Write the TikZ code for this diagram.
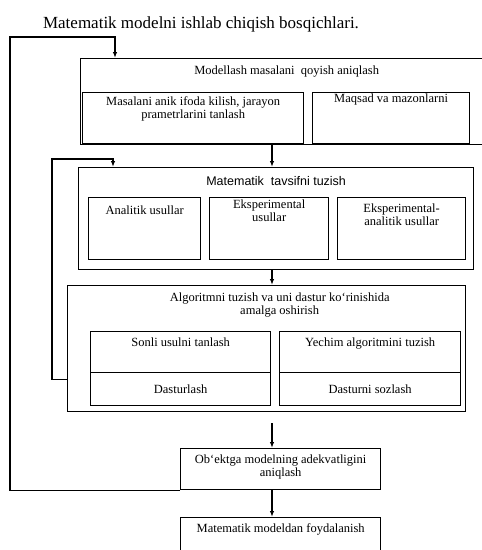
\documentclass[tikz,border=0pt]{standalone}
\usepackage{fontspec}
\setmainfont{Liberation Serif}
\setsansfont{Liberation Sans}
\usetikzlibrary{arrows.meta,positioning}
\tikzset{
  blok/.style={draw,line width=1.3pt,inner sep=0pt,anchor=north west},
  yoz/.style={font=\fontsize{12.5}{13}\selectfont,align=center,inner sep=0pt},
  strel/.style={line width=1.2pt,-{Latex[length=6pt,width=4.5pt]}}
}
\begin{document}
\begin{tikzpicture}[x=1pt,y=-1pt]
\useasboundingbox (0,0) rectangle (482,550);
\node[font=\fontsize{17}{20}\selectfont] (sarlavha) at (201,24) {Matematik modelni ishlab chiqish bosqichlari.};
% 1-bosqich
\node[blok,minimum width=420,minimum height=86] (qoy) at (80,58) {};
\node[yoz,below=8pt of qoy.north,xshift=-4pt] (qoyt) {Modellash masalani\ \ qoyish aniqlash};
\node[blok,minimum width=221,minimum height=51] (aniq) at (82,92) {};
\node[yoz,below=4pt of aniq.north] (aniqt) {Masalani anik ifoda kilish, jarayon\\prametrlarini tanlash};
\node[blok,minimum width=157,minimum height=51] (maqsad) at (312,92) {};
\node[yoz,below=2pt of maqsad.north] (maqsadt) {Maqsad va mazonlarni};
% 2-bosqich
\node[blok,minimum width=395,minimum height=102] (tavsif) at (78,167) {};
\node[yoz,font=\sffamily\fontsize{12.5}{13}\selectfont,below=9pt of tavsif.north] (tavsift) {Matematik\ \ tavsifni tuzish};
\node[blok,minimum width=112,minimum height=62] (anal) at (88,197) {};
\node[yoz,below=9pt of anal.north] (analt) {Analitik usullar};
\node[blok,minimum width=119,minimum height=62] (eksp) at (209,197) {};
\node[yoz,below=3pt of eksp.north] (ekspt) {Eksperimental\\usullar};
\node[blok,minimum width=128,minimum height=62] (ekan) at (337,197) {};
\node[yoz,below=7pt of ekan.north] (ekant) {Eksperimental-\\analitik usullar};
% 3-bosqich
\node[blok,minimum width=398,minimum height=126] (algor) at (67,285) {};
\node[yoz,below=8pt of algor.north,xshift=13pt] (algort) {Algoritmni tuzish va uni dastur ko`rinishida\\amalga oshirish};
\node[blok,minimum width=180,minimum height=41] (sonli) at (90,331) {};
\node[yoz,below=7pt of sonli.north] (sonlit) {Sonli usulni tanlash};
\node[blok,minimum width=181,minimum height=41] (yechim) at (279,331) {};
\node[yoz,below=7pt of yechim.north] (yechimt) {Yechim algoritmini tuzish};
\node[blok,minimum width=180,minimum height=33] (dastur) at (90,372) {};
\node[yoz] (dasturt) at (dastur.center) {Dasturlash};
\node[blok,minimum width=181,minimum height=33] (sozla) at (279,372) {};
\node[yoz] (sozlat) at (sozla.center) {Dasturni sozlash};
% 4-5 bosqich
\node[blok,minimum width=200,minimum height=41] (adek) at (180,448) {};
\node[yoz,below=7pt of adek.north] (adekt) {Ob`ektga modelning adekvatligini\\aniqlash};
\node[blok,minimum width=200,minimum height=42] (foyda) at (180,517) {};
\node[yoz,below=6pt of foyda.north] (foydat) {Matematik modeldan foydalanish};
% strelkalar
\coordinate (o) at (272,0);
\draw[strel] (o |- qoy.south) -- (o |- tavsif.north);
\draw[strel] (o |- tavsif.south) -- (o |- algor.north);
\draw[strel] ([yshift=-11pt]o |- algor.south) -- (o |- adek.north);
\draw[strel] (o |- adek.south) -- (o |- foyda.north);
% teskari aloqa
\coordinate (chap1) at (10,37);
\coordinate (q1) at (115,37);
\draw[strel] (adek.south west) -| (chap1) -| (q1 |- qoy.north);
\coordinate (chap2) at (52,159);
\coordinate (q2) at (113,159);
\draw[strel] ([yshift=33pt]algor.south west) -| (chap2) -| (q2 |- tavsif.north);
\end{tikzpicture}
\end{document}
